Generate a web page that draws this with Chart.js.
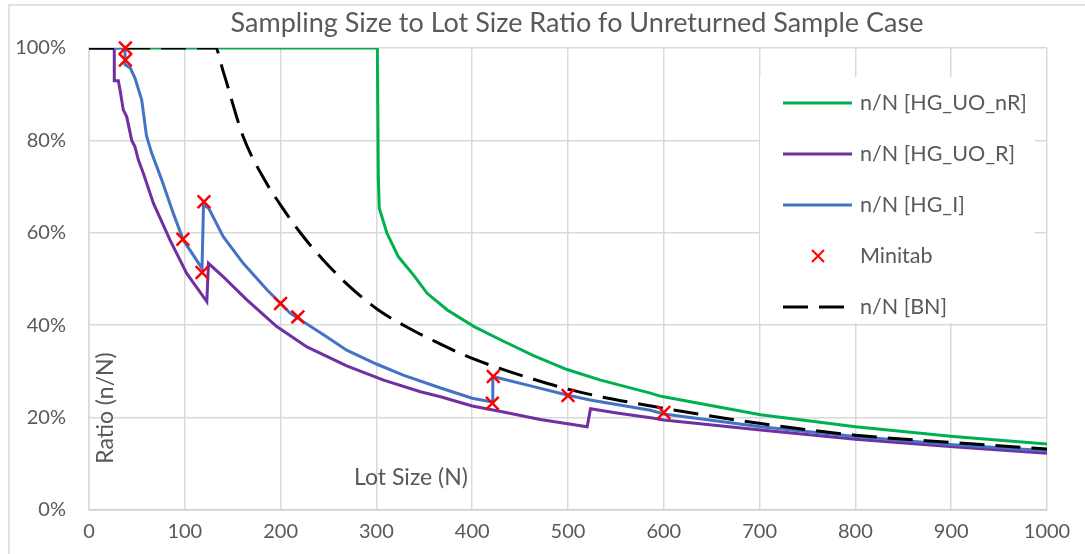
<!DOCTYPE html>
<html>
<head>
    <title>Sampling Size to Lot Size Ratio</title>
    <script src="https://cdn.jsdelivr.net/npm/chart.js"></script>
    <style>
        body {
            margin: 0;
            padding: 0;
            background: #fff;
        }
        #wrap {
            width: 1085px;
            height: 554px;
        }
    </style>
</head>
<body>
    <div id="wrap"><canvas id="myChart" width="1085" height="554"></canvas></div>

    <script>
        // values, y in percent
        const nrLot = [0, 301, 302, 303, 311, 323, 339, 353, 374, 402, 430, 464, 499, 534, 586, 597, 701, 800, 902, 1000];
        const nrRatio = [100, 100, 72, 65.3, 59.9, 54.8, 50.8, 46.9, 43.3, 39.7, 36.8, 33.4, 30.4, 28.1, 25.3, 24.6, 20.6, 18.0, 15.9, 14.3];

        const rLot = [0, 26.4, 26.4, 30.6, 32.4, 35.8, 39.4, 44.6, 48, 51.5, 56.7, 67.2, 84.6, 102, 123, 124.7, 140, 164.8, 196, 227.5, 269, 307.5, 346, 367, 400, 430, 471, 520, 523.5, 551, 588, 600, 701, 800, 902, 1000];
        const rRatio = [100, 100, 92.9, 92.9, 90.9, 86.6, 85.1, 80, 78.6, 75.8, 72.9, 66.4, 58.4, 51.2, 45.1, 53.4, 50.5, 45.5, 39.7, 35.3, 31.2, 28.1, 25.6, 24.5, 22.5, 21.3, 19.6, 18, 21.9, 21, 19.9, 19.5, 17.3, 15.3, 13.7, 12.3];

        const iLot = [0, 37.6, 37.6, 43, 48, 55, 60, 65.5, 76, 88, 98.5, 118, 119.5, 125, 140, 161, 186, 210, 248, 269, 300, 328, 367, 400, 421, 421.5, 464, 499, 523, 586, 600, 701, 800, 902, 1000];
        const iRatio = [100, 100, 96.4, 95.7, 93.5, 88.8, 81, 77.2, 71.4, 64.2, 58.4, 52.3, 66, 65.3, 59.2, 53.4, 47.6, 42.6, 37.5, 34.6, 31.6, 29.2, 26.4, 24.2, 23.4, 28.9, 26.7, 24.9, 23.8, 21.6, 20.8, 18.0, 15.9, 14.1, 12.8];

        const minitabLot = [38, 38, 98, 120, 118, 200, 218, 422, 421, 500, 600];
        const minitabRatio = [100, 97.4, 58.6, 66.7, 51.4, 44.7, 41.8, 28.9, 23.1, 24.8, 21.1];

        const bnLot = [0, 132, 140, 161, 184, 200, 221, 245, 273, 302, 339, 358, 393, 428, 464, 501, 539, 576, 600, 701, 800, 902, 1000];
        const bnRatio = [100, 100, 95, 80.8, 71.2, 66, 59.9, 54, 48.2, 43.3, 38.8, 36.8, 33.4, 30.7, 28.3, 26.1, 24.3, 22.9, 22, 18.7, 16.2, 14.6, 13.2];

        const xTicks = [0, 100, 200, 300, 400, 500, 600, 700, 800, 900, 1000];
        const yTicks = [0, 20, 40, 60, 80, 100];

        const FONT = 'Lato, "Open Sans", sans-serif';
        const TEXT = '#595959';
        const GRID = '#d9d9d9';

        function pts(xs, ys) {
            return xs.map((x, i) => ({ x: x, y: ys[i] }));
        }

        // title, axis titles, outer frame and the legend box inside the plot
        const decorations = {
            id: 'decorations',
            beforeDraw(chart) {
                const ctx = chart.ctx;
                ctx.save();
                ctx.strokeStyle = GRID;
                ctx.lineWidth = 1.5;
                ctx.beginPath();
                ctx.moveTo(9, 560);
                ctx.lineTo(9, 5);
                ctx.lineTo(1090, 5);
                ctx.stroke();
                ctx.restore();
            },
            afterDraw(chart) {
                const ctx = chart.ctx;
                ctx.save();
                ctx.fillStyle = TEXT;
                ctx.textAlign = 'center';
                ctx.textBaseline = 'middle';
                ctx.font = '27px ' + FONT;
                ctx.fillText('Sampling Size to Lot Size Ratio fo Unreturned Sample Case', 577, 23);

                ctx.font = '23px ' + FONT;
                ctx.fillText('Lot Size (N)', 411, 478);
                ctx.save();
                ctx.translate(106, 408);
                ctx.rotate(-Math.PI / 2);
                ctx.fillText('Ratio (n/N)', 0, 0);
                ctx.restore();

                // legend
                ctx.fillStyle = '#fff';
                ctx.fillRect(760, 77, 275, 246);
                ctx.textAlign = 'left';
                ctx.font = '21.5px ' + FONT;
                chart.data.datasets.forEach((ds, i) => {
                    const y = 103 + i * 51;
                    ctx.save();
                    if (ds.showLine === false) {
                        ctx.strokeStyle = ds.pointBorderColor;
                        ctx.lineWidth = 2;
                        ctx.beginPath();
                        ctx.moveTo(812, y - 6);
                        ctx.lineTo(824, y + 6);
                        ctx.moveTo(824, y - 6);
                        ctx.lineTo(812, y + 6);
                        ctx.stroke();
                    } else {
                        ctx.strokeStyle = ds.borderColor;
                        ctx.lineWidth = ds.borderWidth;
                        ctx.setLineDash(ds.borderDash ? [25, 11] : []);
                        ctx.beginPath();
                        ctx.moveTo(783, y);
                        ctx.lineTo(ds.borderDash ? 846 : 852, y);
                        ctx.stroke();
                    }
                    ctx.restore();
                    ctx.fillStyle = TEXT;
                    ctx.fillText(ds.label, 860, y);
                });
                ctx.restore();
            }
        };

        new Chart(document.getElementById('myChart'), {
            type: 'scatter',
            data: {
                datasets: [
                    {
                        label: 'n/N [HG_UO_nR]',
                        data: pts(nrLot, nrRatio),
                        showLine: true,
                        borderColor: '#00b050',
                        borderWidth: 3,
                        pointRadius: 0,
                        order: 4
                    },
                    {
                        label: 'n/N [HG_UO_R]',
                        data: pts(rLot, rRatio),
                        showLine: true,
                        borderColor: '#7030a0',
                        borderWidth: 3,
                        pointRadius: 0,
                        order: 3
                    },
                    {
                        label: 'n/N [HG_I]',
                        data: pts(iLot, iRatio),
                        showLine: true,
                        borderColor: '#4472c4',
                        borderWidth: 3,
                        pointRadius: 0,
                        order: 2
                    },
                    {
                        label: 'Minitab',
                        data: pts(minitabLot, minitabRatio),
                        showLine: false,
                        pointStyle: 'crossRot',
                        pointRadius: 9,
                        pointBorderWidth: 2.5,
                        pointBorderColor: '#ff0000',
                        borderColor: '#ff0000',
                        clip: false,
                        order: 0
                    },
                    {
                        label: 'n/N [BN]',
                        data: pts(bnLot, bnRatio),
                        showLine: true,
                        borderColor: '#000000',
                        borderWidth: 3,
                        borderDash: [25, 11],
                        cubicInterpolationMode: 'monotone',
                        pointRadius: 0,
                        order: 1
                    }
                ]
            },
            options: {
                responsive: false,
                animation: false,
                layout: { padding: { top: 48, right: 38, left: 0, bottom: 0 } },
                plugins: {
                    legend: { display: false },
                    title: { display: false },
                    tooltip: { enabled: false }
                },
                scales: {
                    x: {
                        type: 'linear',
                        min: 0,
                        max: 1000,
                        afterFit: s => { s.height = 44; },
                        afterBuildTicks: s => { s.ticks = xTicks.map(v => ({ value: v })); },
                        grid: { color: GRID, lineWidth: 1.5, drawTicks: false },
                        border: { color: '#cfcfcf', width: 1.5 },
                        ticks: {
                            color: TEXT,
                            font: { family: FONT, size: 20 },
                            padding: 10,
                            maxRotation: 0,
                            callback: v => String(v)
                        }
                    },
                    y: {
                        min: 0,
                        max: 100,
                        afterFit: s => { s.width = 89; },
                        afterBuildTicks: s => { s.ticks = yTicks.map(v => ({ value: v })); },
                        grid: { color: GRID, lineWidth: 1.5, drawTicks: false },
                        border: { color: GRID, width: 1.5 },
                        ticks: {
                            color: TEXT,
                            font: { family: FONT, size: 20 },
                            padding: 23,
                            callback: v => v + '%'
                        }
                    }
                }
            },
            plugins: [decorations]
        });
    </script>
</body>
</html>
